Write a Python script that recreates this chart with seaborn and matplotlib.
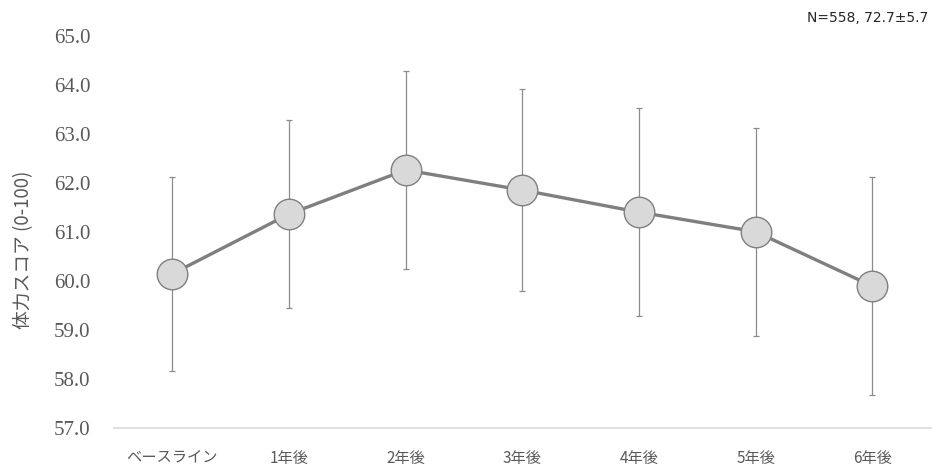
import matplotlib
matplotlib.use("Agg")
import matplotlib.pyplot as plt
import seaborn as sns
import pandas as pd
from matplotlib.ticker import FormatStrFormatter

# Time points and physical-fitness score (mean ± SD)
timepoints = ["ベースライン", "1年後", "2年後", "3年後", "4年後", "5年後", "6年後"]
mean_score = [60.14, 61.36, 62.26, 61.85, 61.40, 61.00, 59.89]
sd_score = [1.98, 1.92, 2.02, 2.07, 2.12, 2.12, 2.23]
y_ticks = [57, 58, 59, 60, 61, 62, 63, 64, 65]

df = pd.DataFrame({"時点": timepoints, "スコア": mean_score, "SD": sd_score})

sns.set_theme(style="white")
plt.rcParams["font.family"] = ["Noto Sans CJK JP", "DejaVu Sans"]

fig = plt.figure(figsize=(9.4, 4.68), dpi=100)
ax = fig.add_axes([0.1213, 0.0861, 0.8687, 0.8376])

# SD whiskers behind the markers
ax.errorbar(range(len(df)), df["スコア"], yerr=df["SD"], fmt="none",
            ecolor="#8c8c8c", elinewidth=0.9, capsize=2.5, capthick=0.9, zorder=1)

sns.pointplot(data=df, x="時点", y="スコア", ax=ax, errorbar=None,
              color="#7f7f7f", markers="o", linewidth=2.4,
              markersize=22, markerfacecolor="#d9d9d9",
              markeredgecolor="#7f7f7f", markeredgewidth=1.0)
for ln in ax.lines:
    ln.set_zorder(3)

ax.set_ylim(57, 65)
ax.set_xlim(-0.5, len(timepoints) - 0.5)
ax.set_yticks(y_ticks)
ax.yaxis.set_major_formatter(FormatStrFormatter("%.1f"))

for s in ["top", "right", "left"]:
    ax.spines[s].set_visible(False)
ax.spines["bottom"].set_color("#d9d9d9")
ax.spines["bottom"].set_linewidth(1.2)

ax.tick_params(axis="y", length=0, pad=17, labelcolor="#595959")
ax.tick_params(axis="x", length=0, pad=16, labelcolor="#595959", labelsize=11)
for lab in ax.get_yticklabels():
    lab.set_fontfamily("Liberation Serif")
    lab.set_fontsize(15)

ax.set_xlabel("")
ax.set_ylabel("体力スコア (0-100)", color="#595959", fontsize=13.5)
ax.yaxis.set_label_coords(-0.098, 0.453)

fig.text(0.987, 0.962, "N=558, 72.7±5.7", ha="right", va="center",
         fontsize=10, color="#262626", family=["DejaVu Sans"])

fig.savefig("out.png", dpi=100)
